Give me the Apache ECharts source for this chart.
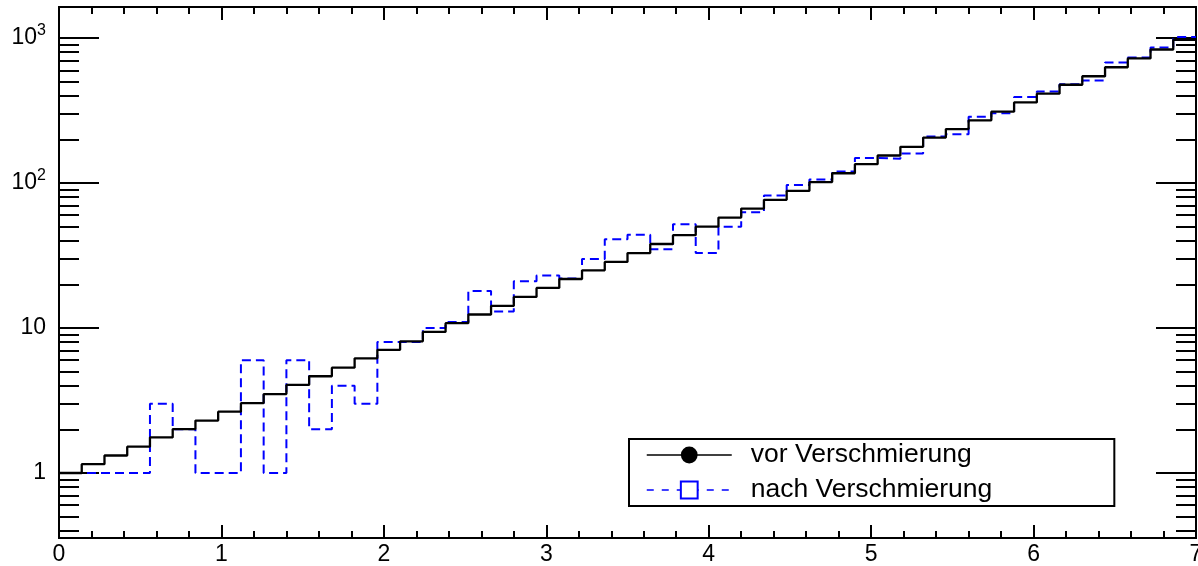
<!DOCTYPE html>
<html>
<head>
<meta charset="utf-8">
<script src="https://cdn.jsdelivr.net/npm/echarts@6/dist/echarts.min.js"></script>
<style>
  html, body { margin: 0; padding: 0; background: #ffffff; }
  #chart { width: 1198px; height: 566px; }
</style>
</head>
<body>
<div id="chart"></div>
<script>
// Histogram binning: 50 bins of width 0.14 on [0, 7]
const binWidth = 0.14;

// Bin contents before smearing (smooth spectrum)
const vorValues = [
  1.00, 1.15, 1.32, 1.52, 1.76, 2.01, 2.30, 2.65, 3.03, 3.50,
  4.05, 4.65, 5.33, 6.18, 7.07, 8.1, 9.4, 10.8, 12.4, 14.2,
  16.4, 18.9, 21.8, 25.0, 28.6, 32.9, 38.0, 43.7, 50.0, 57.8,
  66.7, 76.6, 88.3, 101.6, 116.9, 135, 155, 178, 206, 236,
  271, 311, 360, 414, 477, 546, 630, 724, 835, 975
];

// Bin contents after smearing (counts)
const nachValues = [
  1, 1, 1, 1, 3, 2, 1, 1, 6, 1,
  6, 2, 4, 3, 8, 8, 10, 11, 18, 13,
  21, 23, 22, 30, 41, 44, 35, 52, 33, 50,
  63, 82, 97, 106, 120, 149, 147, 160, 210, 217,
  287, 303, 392, 428, 481, 510, 680, 735, 863, 1017
];

const seriesNames = ['vor Verschmierung', 'nach Verschmierung'];
const xTickLabels = ['0', '1', '2', '3', '4', '5', '6', '7'];
const yMajorTicks = [1, 10, 100, 1000];
const yMinorTicks = [
  0.4, 0.5, 0.6, 0.7, 0.8, 0.9,
  2, 3, 4, 5, 6, 7, 8, 9,
  20, 30, 40, 50, 60, 70, 80, 90,
  200, 300, 400, 500, 600, 700, 800, 900
];

const FONT = '"Liberation Sans", Arial, Helvetica, sans-serif';

// Step outline: one point per lower bin edge, plus the closing edge
function toSteps(values) {
  const pts = values.map((v, i) => [+(i * binWidth).toFixed(4), v]);
  pts.push([+(values.length * binWidth).toFixed(4), values[values.length - 1]]);
  return pts;
}

function yLabel(v) {
  const e = Math.round(Math.log10(v));
  if (e <= 1) return '{b|' + String(Math.round(v)) + '}';
  return '{b|10}{s|' + e + '}';
}

const xMin = 0, xMax = xTickLabels.length - 1;
const yMin = 0.356, yMax = 1640;

function xAxisDef(position, showLabels) {
  return {
    type: 'value', position: position, min: xMin, max: xMax, interval: 1,
    axisLine: { show: true, lineStyle: { color: '#000', width: 2 } },
    axisTick: { show: true, inside: true, length: 13, lineStyle: { color: '#000', width: 2 } },
    minorTick: { show: true, splitNumber: 5, length: 7, lineStyle: { color: '#000', width: 2 } },
    splitLine: { show: false },
    axisLabel: {
      show: showLabels, margin: 5, color: '#000', fontSize: 23, fontFamily: FONT,
      formatter: v => xTickLabels[Math.round(v)] ?? ''
    }
  };
}

function yAxisDef(position, ticks, len, showLabels) {
  return {
    type: 'log', logBase: 10, position: position, min: yMin, max: yMax,
    axisLine: { show: true, lineStyle: { color: '#000', width: 2 } },
    axisTick: { show: true, inside: true, length: len, customValues: ticks,
                lineStyle: { color: '#000', width: 2 } },
    minorTick: { show: false },
    splitLine: { show: false },
    axisLabel: {
      show: showLabels, customValues: ticks, margin: 13, color: '#000', fontFamily: FONT,
      formatter: yLabel,
      rich: {
        b: { fontSize: 23, lineHeight: 31, fontFamily: FONT, color: '#000' },
        s: { fontSize: 16, lineHeight: 16, fontFamily: FONT, color: '#000', verticalAlign: 'top' }
      }
    }
  };
}

const chart = echarts.init(document.getElementById('chart'), null, { renderer: 'canvas' });

chart.setOption({
  animation: false,
  backgroundColor: '#ffffff',
  grid: { left: 59, right: 2, top: 7, bottom: 28, containLabel: false, outerBoundsMode: 'none' },
  xAxis: [xAxisDef('bottom', true), xAxisDef('top', false)],
  yAxis: [
    yAxisDef('left', yMajorTicks, 40, true),
    yAxisDef('left', yMinorTicks, 20, false),
    yAxisDef('right', yMajorTicks, 40, false),
    yAxisDef('right', yMinorTicks, 20, false)
  ],
  legend: {
    orient: 'vertical',
    left: 629, top: 439,
    padding: [1, 122, 1, 17],
    itemGap: 5,
    itemWidth: 85,
    itemHeight: 21,
    selectedMode: false,
    backgroundColor: '#ffffff',
    borderColor: '#000',
    borderWidth: 2,
    textStyle: { color: '#000', fontSize: 26.5, fontFamily: FONT, lineHeight: 30, padding: [0, 0, 0, 14] },
    data: [
      { name: seriesNames[0], lineStyle: { width: 1.5, type: 'solid' } },
      { name: seriesNames[1], lineStyle: { width: 1.5, type: [7, 8] } }
    ]
  },
  series: [
    {
      name: seriesNames[1], type: 'line', step: 'end',
      xAxisIndex: 0, yAxisIndex: 0,
      data: toSteps(nachValues),
      symbol: 'emptyRect', showSymbol: false, silent: true, z: 2,
      lineStyle: { color: '#0000ff', width: 2, type: [9, 5] },
      itemStyle: { color: '#0000ff' }
    },
    {
      name: seriesNames[0], type: 'line', step: 'end',
      xAxisIndex: 0, yAxisIndex: 0,
      data: toSteps(vorValues),
      symbol: 'circle', showSymbol: false, silent: true, z: 3,
      lineStyle: { color: '#000000', width: 2.3 },
      itemStyle: { color: '#000000' }
    }
  ]
});
</script>
</body>
</html>
